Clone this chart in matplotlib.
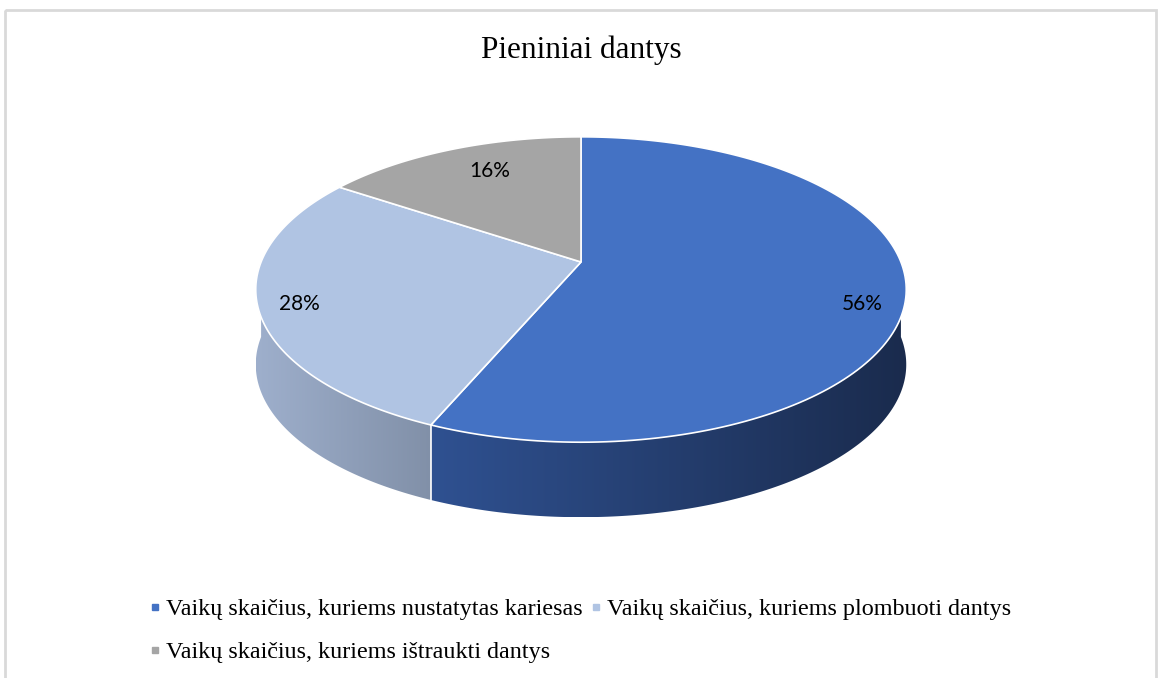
import numpy as np
import matplotlib.pyplot as plt
from matplotlib.patches import Polygon, Rectangle
from matplotlib.lines import Line2D
from matplotlib.colors import LinearSegmentedColormap

title = "Pieniniai dantys"
categories = [
    "Vaikų skaičius, kuriems nustatytas kariesas",
    "Vaikų skaičius, kuriems plombuoti dantys",
    "Vaikų skaičius, kuriems ištraukti dantys",
]
# shares estimated from the slice borders, labels round to 56 / 28 / 16
shares = [56.4, 28.0, 15.6]

top_colors = ["#4472C4", "#B0C4E3", "#A5A5A5"]
side_colors = [("#2F5191", "#1A2B4D"), ("#9EAFCC", "#8190A8"), ("#8C8C8C", "#6E6E6E")]
# label placement tweaks (angle shift in degrees, radius)
label_shift = [(-6.5, 0.88), (1.4, 0.88), (-3.1, 0.76)]

W, H = 1158, 678

# simple perspective camera for the top of the disk,
# the wall is dropped straight down by a fixed pixel height
elev = np.radians(27.5)
dist = 4.92
focal = 1574
wall_px = 75
cx0, cy0 = 581, 262


def project(x, y):
    s, c = np.sin(elev), np.cos(elev)
    depth = dist + y * c
    return cx0 + focal * x / depth, cy0 - focal * y * s / depth


def arc(a1, a2, drop=0.0, r=1.0, n=160):
    t = np.linspace(a1, a2, n)
    px, py = project(r * np.cos(t), r * np.sin(t))
    return np.column_stack([px, py + drop])


fig = plt.figure(figsize=(W / 100, H / 100), dpi=100)
ax = fig.add_axes([0, 0, 1, 1])
ax.set_xlim(0, W)
ax.set_ylim(H, 0)
ax.axis("off")

# slice angles, clockwise from 12 o'clock
fracs = np.array(shares) / np.sum(shares)
ends = np.pi / 2 - 2 * np.pi * np.cumsum(fracs)
starts = np.concatenate([[np.pi / 2], ends[:-1]])

# side walls (only the front half shows)
for i in range(len(shares)):
    lo, hi = min(starts[i], ends[i]), max(starts[i], ends[i])
    segs = []
    for off in (0, -2 * np.pi, 2 * np.pi):
        l, h = max(lo + off, -np.pi), min(hi + off, 0.0)
        if h > l:
            segs.append((l, h))
    for l, h in segs:
        top = arc(h, l)
        bot = arc(l, h, wall_px)
        pts = np.vstack([top, bot])
        poly = Polygon(pts, closed=True, facecolor="none", edgecolor="none")
        ax.add_patch(poly)
        cmap = LinearSegmentedColormap.from_list("s%d" % i, side_colors[i])
        grad = np.linspace(0, 1, 256).reshape(1, -1)
        x0, x1 = pts[:, 0].min(), pts[:, 0].max()
        y0, y1 = pts[:, 1].min(), pts[:, 1].max()
        im = ax.imshow(grad, cmap=cmap, extent=[x0, x1, y1, y0], aspect="auto",
                       interpolation="bilinear", zorder=1)
        im.set_clip_path(poly)

# seams on the wall at slice borders in the front half
for a in ends:
    a = (a + np.pi) % (2 * np.pi) - np.pi
    if -np.pi < a < 0:
        xa, ya = project(np.cos(a), np.sin(a))
        ax.plot([xa, xa], [ya, ya + wall_px], color="white", lw=1.2, zorder=2)

# top faces
ccx, ccy = project(0.0, 0.0)
for i in range(len(shares)):
    pts = np.vstack([[ccx, ccy], arc(starts[i], ends[i])])
    ax.add_patch(Polygon(pts, closed=True, facecolor=top_colors[i],
                         edgecolor="white", lw=1.2, zorder=3))

# percentage labels
for i in range(len(shares)):
    mid = (starts[i] + ends[i]) / 2 + np.radians(label_shift[i][0])
    r = label_shift[i][1]
    lx, ly = project(r * np.cos(mid), r * np.sin(mid))
    ax.text(lx, ly, f"{shares[i]:.0f}%", ha="center", va="center",
            fontsize=15, family="Lato", color="#000000", zorder=4)

ax.text(W / 2 + 2, 50, title, ha="center", va="center", fontsize=22.5,
        family="Liberation Serif", color="#000000")

# chart frame
ax.add_patch(Rectangle((5, 10), W - 7, H + 20, facecolor="none",
                       edgecolor="#D9D9D9", lw=2, zorder=0))

# legend: row order a, b / c
handles = [Line2D([], [], marker="s", linestyle="none", markersize=3.8,
                  markerfacecolor=c, markeredgecolor=c) for c in top_colors]
order = [0, 2, 1]
fig.legend([handles[k] for k in order], [categories[k] for k in order],
           ncol=2, loc="upper left", bbox_to_anchor=(138 / W, 1 - 586 / H),
           frameon=False, prop={"family": "Liberation Serif", "size": 17.4},
           handlelength=0.4, handletextpad=0.25, columnspacing=0.37,
           labelspacing=0.89, borderpad=0)

fig.savefig("out.png", dpi=100)
